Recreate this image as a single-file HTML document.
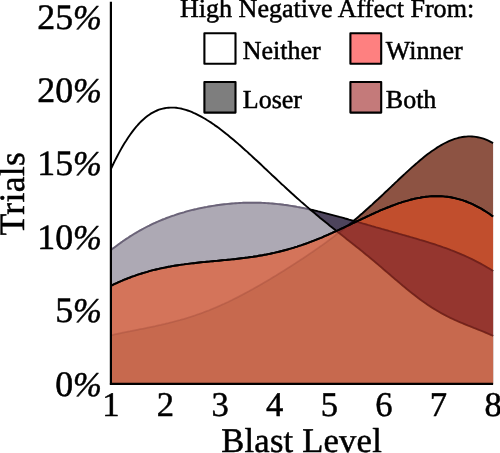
<!DOCTYPE html>
<html><head><meta charset="utf-8"><title>Blast Level density</title>
<style>
html,body{margin:0;padding:0;background:#fff;}
body{width:500px;height:453px;overflow:hidden;}
svg{display:block;will-change:transform;font-family:"Liberation Serif","Times New Roman",serif;fill:#000;}
text{stroke:#000;stroke-width:0.5px;stroke-linejoin:round;text-rendering:geometricPrecision;}
</style></head><body>
<svg width="500" height="453" viewBox="0 0 500 453">
<rect width="500" height="453" fill="#fff"/>
<g id="curves">
<path d="M110.9,335.3 L112.8,334.9 L114.7,334.4 L116.7,334.0 L118.6,333.6 L120.5,333.2 L122.4,332.8 L124.3,332.4 L126.3,332.0 L128.2,331.6 L130.1,331.3 L132.0,330.9 L133.9,330.5 L135.9,330.1 L137.8,329.7 L139.7,329.3 L141.6,328.9 L143.6,328.6 L145.5,328.2 L147.4,327.8 L149.3,327.4 L151.2,327.0 L153.2,326.6 L155.1,326.2 L157.0,325.7 L158.9,325.3 L160.8,324.9 L162.8,324.4 L164.7,324.0 L166.6,323.5 L168.5,323.1 L170.4,322.6 L172.4,322.1 L174.3,321.6 L176.2,321.1 L178.1,320.6 L180.0,320.1 L182.0,319.5 L183.9,319.0 L185.8,318.4 L187.7,317.8 L189.6,317.2 L191.6,316.6 L193.5,315.9 L195.4,315.3 L197.3,314.6 L199.2,314.0 L201.2,313.3 L203.1,312.6 L205.0,311.8 L206.9,311.1 L208.9,310.4 L210.8,309.6 L212.7,308.8 L214.6,308.0 L216.5,307.2 L218.5,306.3 L220.4,305.5 L222.3,304.6 L224.2,303.8 L226.1,302.9 L228.1,302.0 L230.0,301.0 L231.9,300.1 L233.8,299.1 L235.7,298.2 L237.7,297.2 L239.6,296.2 L241.5,295.2 L243.4,294.2 L245.3,293.2 L247.3,292.1 L249.2,291.1 L251.1,290.0 L253.0,289.0 L254.9,287.9 L256.9,286.8 L258.8,285.7 L260.7,284.6 L262.6,283.5 L264.5,282.4 L266.5,281.2 L268.4,280.1 L270.3,279.0 L272.2,277.8 L274.2,276.6 L276.1,275.5 L278.0,274.3 L279.9,273.1 L281.8,271.9 L283.8,270.7 L285.7,269.5 L287.6,268.3 L289.5,267.1 L291.4,265.9 L293.4,264.6 L295.3,263.4 L297.2,262.1 L299.1,260.9 L301.0,259.6 L303.0,258.4 L304.9,257.1 L306.8,255.8 L308.7,254.5 L310.6,253.2 L312.6,251.9 L314.5,250.6 L316.4,249.2 L318.3,247.9 L320.2,246.5 L322.2,245.2 L324.1,243.8 L326.0,242.4 L327.9,241.0 L329.8,239.6 L331.8,238.1 L333.7,236.7 L335.6,235.2 L337.5,233.7 L339.5,232.3 L341.4,230.8 L343.3,229.2 L345.2,227.7 L347.1,226.1 L349.1,224.6 L351.0,223.0 L352.9,221.4 L354.8,219.8 L356.7,218.2 L358.7,216.5 L360.6,214.8 L362.5,213.2 L364.4,211.5 L366.3,209.8 L368.3,208.0 L370.2,206.3 L372.1,204.6 L374.0,202.8 L375.9,201.0 L377.9,199.3 L379.8,197.5 L381.7,195.7 L383.6,193.9 L385.5,192.0 L387.5,190.2 L389.4,188.4 L391.3,186.6 L393.2,184.8 L395.1,182.9 L397.1,181.1 L399.0,179.3 L400.9,177.5 L402.8,175.7 L404.8,173.9 L406.7,172.1 L408.6,170.4 L410.5,168.6 L412.4,166.9 L414.4,165.2 L416.3,163.6 L418.2,161.9 L420.1,160.3 L422.0,158.7 L424.0,157.1 L425.9,155.6 L427.8,154.1 L429.7,152.7 L431.6,151.3 L433.6,150.0 L435.5,148.7 L437.4,147.4 L439.3,146.2 L441.2,145.1 L443.2,144.0 L445.1,143.0 L447.0,142.1 L448.9,141.2 L450.8,140.4 L452.8,139.6 L454.7,138.9 L456.6,138.4 L458.5,137.8 L460.4,137.4 L462.4,137.0 L464.3,136.8 L466.2,136.6 L468.1,136.4 L470.1,136.4 L472.0,136.5 L473.9,136.6 L475.8,136.9 L477.7,137.2 L479.7,137.6 L481.6,138.1 L483.5,138.7 L485.4,139.4 L487.3,140.2 L489.3,141.1 L491.2,142.1 L493.1,143.1 L493.1,383.8 L110.9,383.8 Z" fill="rgb(103,25,4)" fill-opacity="0.75" stroke="none"/>
<path d="M110.9,335.3 L112.8,334.9 L114.7,334.4 L116.7,334.0 L118.6,333.6 L120.5,333.2 L122.4,332.8 L124.3,332.4 L126.3,332.0 L128.2,331.6 L130.1,331.3 L132.0,330.9 L133.9,330.5 L135.9,330.1 L137.8,329.7 L139.7,329.3 L141.6,328.9 L143.6,328.6 L145.5,328.2 L147.4,327.8 L149.3,327.4 L151.2,327.0 L153.2,326.6 L155.1,326.2 L157.0,325.7 L158.9,325.3 L160.8,324.9 L162.8,324.4 L164.7,324.0 L166.6,323.5 L168.5,323.1 L170.4,322.6 L172.4,322.1 L174.3,321.6 L176.2,321.1 L178.1,320.6 L180.0,320.1 L182.0,319.5 L183.9,319.0 L185.8,318.4 L187.7,317.8 L189.6,317.2 L191.6,316.6 L193.5,315.9 L195.4,315.3 L197.3,314.6 L199.2,314.0 L201.2,313.3 L203.1,312.6 L205.0,311.8 L206.9,311.1 L208.9,310.4 L210.8,309.6 L212.7,308.8 L214.6,308.0 L216.5,307.2 L218.5,306.3 L220.4,305.5 L222.3,304.6 L224.2,303.8 L226.1,302.9 L228.1,302.0 L230.0,301.0 L231.9,300.1 L233.8,299.1 L235.7,298.2 L237.7,297.2 L239.6,296.2 L241.5,295.2 L243.4,294.2 L245.3,293.2 L247.3,292.1 L249.2,291.1 L251.1,290.0 L253.0,289.0 L254.9,287.9 L256.9,286.8 L258.8,285.7 L260.7,284.6 L262.6,283.5 L264.5,282.4 L266.5,281.2 L268.4,280.1 L270.3,279.0 L272.2,277.8 L274.2,276.6 L276.1,275.5 L278.0,274.3 L279.9,273.1 L281.8,271.9 L283.8,270.7 L285.7,269.5 L287.6,268.3 L289.5,267.1 L291.4,265.9 L293.4,264.6 L295.3,263.4 L297.2,262.1 L299.1,260.9 L301.0,259.6 L303.0,258.4 L304.9,257.1 L306.8,255.8 L308.7,254.5 L310.6,253.2 L312.6,251.9 L314.5,250.6 L316.4,249.2 L318.3,247.9 L320.2,246.5 L322.2,245.2 L324.1,243.8 L326.0,242.4 L327.9,241.0 L329.8,239.6 L331.8,238.1 L333.7,236.7 L335.6,235.2 L337.5,233.7 L339.5,232.3 L341.4,230.8 L343.3,229.2 L345.2,227.7 L347.1,226.1 L349.1,224.6 L351.0,223.0 L352.9,221.4 L354.8,219.8 L356.7,218.2 L358.7,216.5 L360.6,214.8 L362.5,213.2 L364.4,211.5 L366.3,209.8 L368.3,208.0 L370.2,206.3 L372.1,204.6 L374.0,202.8 L375.9,201.0 L377.9,199.3 L379.8,197.5 L381.7,195.7 L383.6,193.9 L385.5,192.0 L387.5,190.2 L389.4,188.4 L391.3,186.6 L393.2,184.8 L395.1,182.9 L397.1,181.1 L399.0,179.3 L400.9,177.5 L402.8,175.7 L404.8,173.9 L406.7,172.1 L408.6,170.4 L410.5,168.6 L412.4,166.9 L414.4,165.2 L416.3,163.6 L418.2,161.9 L420.1,160.3 L422.0,158.7 L424.0,157.1 L425.9,155.6 L427.8,154.1 L429.7,152.7 L431.6,151.3 L433.6,150.0 L435.5,148.7 L437.4,147.4 L439.3,146.2 L441.2,145.1 L443.2,144.0 L445.1,143.0 L447.0,142.1 L448.9,141.2 L450.8,140.4 L452.8,139.6 L454.7,138.9 L456.6,138.4 L458.5,137.8 L460.4,137.4 L462.4,137.0 L464.3,136.8 L466.2,136.6 L468.1,136.4 L470.1,136.4 L472.0,136.5 L473.9,136.6 L475.8,136.9 L477.7,137.2 L479.7,137.6 L481.6,138.1 L483.5,138.7 L485.4,139.4 L487.3,140.2 L489.3,141.1 L491.2,142.1 L493.1,143.1" fill="none" stroke="#000" stroke-width="1.9" stroke-linejoin="round" stroke-linecap="butt"/>
<path d="M110.9,250.1 L112.8,248.6 L114.7,247.2 L116.7,245.7 L118.6,244.3 L120.5,242.9 L122.4,241.6 L124.3,240.2 L126.3,238.9 L128.2,237.7 L130.1,236.4 L132.0,235.2 L133.9,234.0 L135.9,232.9 L137.8,231.7 L139.7,230.6 L141.6,229.6 L143.6,228.5 L145.5,227.5 L147.4,226.5 L149.3,225.6 L151.2,224.6 L153.2,223.7 L155.1,222.8 L157.0,222.0 L158.9,221.1 L160.8,220.3 L162.8,219.5 L164.7,218.8 L166.6,218.0 L168.5,217.3 L170.4,216.6 L172.4,215.9 L174.3,215.3 L176.2,214.6 L178.1,214.0 L180.0,213.4 L182.0,212.8 L183.9,212.3 L185.8,211.7 L187.7,211.2 L189.6,210.7 L191.6,210.2 L193.5,209.7 L195.4,209.3 L197.3,208.8 L199.2,208.4 L201.2,208.0 L203.1,207.6 L205.0,207.2 L206.9,206.9 L208.9,206.5 L210.8,206.2 L212.7,205.9 L214.6,205.6 L216.5,205.3 L218.5,205.0 L220.4,204.7 L222.3,204.5 L224.2,204.3 L226.1,204.1 L228.1,203.9 L230.0,203.7 L231.9,203.5 L233.8,203.4 L235.7,203.2 L237.7,203.1 L239.6,203.0 L241.5,202.9 L243.4,202.8 L245.3,202.8 L247.3,202.7 L249.2,202.7 L251.1,202.7 L253.0,202.7 L254.9,202.7 L256.9,202.7 L258.8,202.8 L260.7,202.8 L262.6,202.9 L264.5,203.0 L266.5,203.1 L268.4,203.2 L270.3,203.4 L272.2,203.5 L274.2,203.7 L276.1,203.9 L278.0,204.1 L279.9,204.3 L281.8,204.5 L283.8,204.8 L285.7,205.0 L287.6,205.3 L289.5,205.6 L291.4,205.9 L293.4,206.2 L295.3,206.5 L297.2,206.9 L299.1,207.2 L301.0,207.6 L303.0,208.0 L304.9,208.4 L306.8,208.8 L308.7,209.2 L310.6,209.6 L312.6,210.0 L314.5,210.5 L316.4,210.9 L318.3,211.4 L320.2,211.8 L322.2,212.3 L324.1,212.8 L326.0,213.3 L327.9,213.8 L329.8,214.3 L331.8,214.8 L333.7,215.3 L335.6,215.8 L337.5,216.3 L339.5,216.9 L341.4,217.4 L343.3,217.9 L345.2,218.5 L347.1,219.0 L349.1,219.6 L351.0,220.1 L352.9,220.6 L354.8,221.2 L356.7,221.7 L358.7,222.3 L360.6,222.8 L362.5,223.4 L364.4,223.9 L366.3,224.5 L368.3,225.1 L370.2,225.6 L372.1,226.2 L374.0,226.7 L375.9,227.3 L377.9,227.8 L379.8,228.3 L381.7,228.9 L383.6,229.4 L385.5,230.0 L387.5,230.5 L389.4,231.1 L391.3,231.6 L393.2,232.2 L395.1,232.7 L397.1,233.2 L399.0,233.8 L400.9,234.3 L402.8,234.9 L404.8,235.4 L406.7,236.0 L408.6,236.5 L410.5,237.1 L412.4,237.6 L414.4,238.2 L416.3,238.7 L418.2,239.3 L420.1,239.9 L422.0,240.4 L424.0,241.0 L425.9,241.6 L427.8,242.2 L429.7,242.8 L431.6,243.4 L433.6,244.0 L435.5,244.6 L437.4,245.3 L439.3,245.9 L441.2,246.6 L443.2,247.3 L445.1,247.9 L447.0,248.6 L448.9,249.3 L450.8,250.1 L452.8,250.8 L454.7,251.6 L456.6,252.4 L458.5,253.2 L460.4,254.0 L462.4,254.8 L464.3,255.6 L466.2,256.5 L468.1,257.4 L470.1,258.3 L472.0,259.2 L473.9,260.2 L475.8,261.2 L477.7,262.2 L479.7,263.2 L481.6,264.2 L483.5,265.3 L485.4,266.4 L487.3,267.5 L489.3,268.6 L491.2,269.8 L493.1,271.0 L493.1,383.8 L110.9,383.8 Z" fill="rgb(27,16,46)" fill-opacity="0.78" stroke="none"/>
<path d="M110.9,250.1 L112.8,248.6 L114.7,247.2 L116.7,245.7 L118.6,244.3 L120.5,242.9 L122.4,241.6 L124.3,240.2 L126.3,238.9 L128.2,237.7 L130.1,236.4 L132.0,235.2 L133.9,234.0 L135.9,232.9 L137.8,231.7 L139.7,230.6 L141.6,229.6 L143.6,228.5 L145.5,227.5 L147.4,226.5 L149.3,225.6 L151.2,224.6 L153.2,223.7 L155.1,222.8 L157.0,222.0 L158.9,221.1 L160.8,220.3 L162.8,219.5 L164.7,218.8 L166.6,218.0 L168.5,217.3 L170.4,216.6 L172.4,215.9 L174.3,215.3 L176.2,214.6 L178.1,214.0 L180.0,213.4 L182.0,212.8 L183.9,212.3 L185.8,211.7 L187.7,211.2 L189.6,210.7 L191.6,210.2 L193.5,209.7 L195.4,209.3 L197.3,208.8 L199.2,208.4 L201.2,208.0 L203.1,207.6 L205.0,207.2 L206.9,206.9 L208.9,206.5 L210.8,206.2 L212.7,205.9 L214.6,205.6 L216.5,205.3 L218.5,205.0 L220.4,204.7 L222.3,204.5 L224.2,204.3 L226.1,204.1 L228.1,203.9 L230.0,203.7 L231.9,203.5 L233.8,203.4 L235.7,203.2 L237.7,203.1 L239.6,203.0 L241.5,202.9 L243.4,202.8 L245.3,202.8 L247.3,202.7 L249.2,202.7 L251.1,202.7 L253.0,202.7 L254.9,202.7 L256.9,202.7 L258.8,202.8 L260.7,202.8 L262.6,202.9 L264.5,203.0 L266.5,203.1 L268.4,203.2 L270.3,203.4 L272.2,203.5 L274.2,203.7 L276.1,203.9 L278.0,204.1 L279.9,204.3 L281.8,204.5 L283.8,204.8 L285.7,205.0 L287.6,205.3 L289.5,205.6 L291.4,205.9 L293.4,206.2 L295.3,206.5 L297.2,206.9 L299.1,207.2 L301.0,207.6 L303.0,208.0 L304.9,208.4 L306.8,208.8 L308.7,209.2 L310.6,209.6 L312.6,210.0 L314.5,210.5 L316.4,210.9 L318.3,211.4 L320.2,211.8 L322.2,212.3 L324.1,212.8 L326.0,213.3 L327.9,213.8 L329.8,214.3 L331.8,214.8 L333.7,215.3 L335.6,215.8 L337.5,216.3 L339.5,216.9 L341.4,217.4 L343.3,217.9 L345.2,218.5 L347.1,219.0 L349.1,219.6 L351.0,220.1 L352.9,220.6 L354.8,221.2 L356.7,221.7 L358.7,222.3 L360.6,222.8 L362.5,223.4 L364.4,223.9 L366.3,224.5 L368.3,225.1 L370.2,225.6 L372.1,226.2 L374.0,226.7 L375.9,227.3 L377.9,227.8 L379.8,228.3 L381.7,228.9 L383.6,229.4 L385.5,230.0 L387.5,230.5 L389.4,231.1 L391.3,231.6 L393.2,232.2 L395.1,232.7 L397.1,233.2 L399.0,233.8 L400.9,234.3 L402.8,234.9 L404.8,235.4 L406.7,236.0 L408.6,236.5 L410.5,237.1 L412.4,237.6 L414.4,238.2 L416.3,238.7 L418.2,239.3 L420.1,239.9 L422.0,240.4 L424.0,241.0 L425.9,241.6 L427.8,242.2 L429.7,242.8 L431.6,243.4 L433.6,244.0 L435.5,244.6 L437.4,245.3 L439.3,245.9 L441.2,246.6 L443.2,247.3 L445.1,247.9 L447.0,248.6 L448.9,249.3 L450.8,250.1 L452.8,250.8 L454.7,251.6 L456.6,252.4 L458.5,253.2 L460.4,254.0 L462.4,254.8 L464.3,255.6 L466.2,256.5 L468.1,257.4 L470.1,258.3 L472.0,259.2 L473.9,260.2 L475.8,261.2 L477.7,262.2 L479.7,263.2 L481.6,264.2 L483.5,265.3 L485.4,266.4 L487.3,267.5 L489.3,268.6 L491.2,269.8 L493.1,271.0" fill="none" stroke="#000" stroke-width="1.9" stroke-linejoin="round" stroke-linecap="butt"/>
<path d="M110.9,169.0 L112.8,165.0 L114.7,161.1 L116.7,157.3 L118.6,153.6 L120.5,150.1 L122.4,146.8 L124.3,143.5 L126.3,140.5 L128.2,137.5 L130.1,134.7 L132.0,132.1 L133.9,129.6 L135.9,127.2 L137.8,125.0 L139.7,122.9 L141.6,121.0 L143.6,119.2 L145.5,117.6 L147.4,116.1 L149.3,114.7 L151.2,113.4 L153.2,112.3 L155.1,111.3 L157.0,110.5 L158.9,109.7 L160.8,109.1 L162.8,108.6 L164.7,108.2 L166.6,107.9 L168.5,107.7 L170.4,107.6 L172.4,107.6 L174.3,107.6 L176.2,107.8 L178.1,108.1 L180.0,108.4 L182.0,108.8 L183.9,109.3 L185.8,109.9 L187.7,110.5 L189.6,111.2 L191.6,111.9 L193.5,112.8 L195.4,113.6 L197.3,114.6 L199.2,115.6 L201.2,116.6 L203.1,117.7 L205.0,118.8 L206.9,120.0 L208.9,121.2 L210.8,122.4 L212.7,123.7 L214.6,125.1 L216.5,126.4 L218.5,127.8 L220.4,129.3 L222.3,130.7 L224.2,132.2 L226.1,133.8 L228.1,135.3 L230.0,136.9 L231.9,138.5 L233.8,140.1 L235.7,141.7 L237.7,143.4 L239.6,145.1 L241.5,146.7 L243.4,148.5 L245.3,150.2 L247.3,151.9 L249.2,153.7 L251.1,155.4 L253.0,157.2 L254.9,159.0 L256.9,160.8 L258.8,162.5 L260.7,164.3 L262.6,166.1 L264.5,168.0 L266.5,169.8 L268.4,171.6 L270.3,173.4 L272.2,175.2 L274.2,177.0 L276.1,178.8 L278.0,180.6 L279.9,182.4 L281.8,184.2 L283.8,185.9 L285.7,187.7 L287.6,189.5 L289.5,191.2 L291.4,193.0 L293.4,194.7 L295.3,196.5 L297.2,198.2 L299.1,199.9 L301.0,201.6 L303.0,203.3 L304.9,204.9 L306.8,206.6 L308.7,208.3 L310.6,209.9 L312.6,211.5 L314.5,213.1 L316.4,214.7 L318.3,216.3 L320.2,217.9 L322.2,219.5 L324.1,221.0 L326.0,222.6 L327.9,224.1 L329.8,225.7 L331.8,227.2 L333.7,228.7 L335.6,230.3 L337.5,231.8 L339.5,233.3 L341.4,234.8 L343.3,236.3 L345.2,237.8 L347.1,239.4 L349.1,240.9 L351.0,242.4 L352.9,243.9 L354.8,245.4 L356.7,247.0 L358.7,248.5 L360.6,250.1 L362.5,251.6 L364.4,253.2 L366.3,254.8 L368.3,256.3 L370.2,257.9 L372.1,259.5 L374.0,261.1 L375.9,262.7 L377.9,264.4 L379.8,266.0 L381.7,267.6 L383.6,269.3 L385.5,270.9 L387.5,272.6 L389.4,274.2 L391.3,275.9 L393.2,277.5 L395.1,279.2 L397.1,280.8 L399.0,282.4 L400.9,284.1 L402.8,285.7 L404.8,287.3 L406.7,288.9 L408.6,290.4 L410.5,292.0 L412.4,293.5 L414.4,295.0 L416.3,296.5 L418.2,298.0 L420.1,299.4 L422.0,300.8 L424.0,302.2 L425.9,303.5 L427.8,304.9 L429.7,306.1 L431.6,307.4 L433.6,308.6 L435.5,309.8 L437.4,310.9 L439.3,312.0 L441.2,313.1 L443.2,314.2 L445.1,315.2 L447.0,316.2 L448.9,317.1 L450.8,318.1 L452.8,319.0 L454.7,319.9 L456.6,320.7 L458.5,321.6 L460.4,322.4 L462.4,323.2 L464.3,324.0 L466.2,324.8 L468.1,325.6 L470.1,326.3 L472.0,327.1 L473.9,327.9 L475.8,328.6 L477.7,329.4 L479.7,330.2 L481.6,330.9 L483.5,331.7 L485.4,332.5 L487.3,333.3 L489.3,334.2 L491.2,335.0 L493.1,335.9 L493.1,383.8 L110.9,383.8 Z" fill="rgb(255,255,255)" fill-opacity="0.54" stroke="none"/>
<path d="M110.9,169.0 L112.8,165.0 L114.7,161.1 L116.7,157.3 L118.6,153.6 L120.5,150.1 L122.4,146.8 L124.3,143.5 L126.3,140.5 L128.2,137.5 L130.1,134.7 L132.0,132.1 L133.9,129.6 L135.9,127.2 L137.8,125.0 L139.7,122.9 L141.6,121.0 L143.6,119.2 L145.5,117.6 L147.4,116.1 L149.3,114.7 L151.2,113.4 L153.2,112.3 L155.1,111.3 L157.0,110.5 L158.9,109.7 L160.8,109.1 L162.8,108.6 L164.7,108.2 L166.6,107.9 L168.5,107.7 L170.4,107.6 L172.4,107.6 L174.3,107.6 L176.2,107.8 L178.1,108.1 L180.0,108.4 L182.0,108.8 L183.9,109.3 L185.8,109.9 L187.7,110.5 L189.6,111.2 L191.6,111.9 L193.5,112.8 L195.4,113.6 L197.3,114.6 L199.2,115.6 L201.2,116.6 L203.1,117.7 L205.0,118.8 L206.9,120.0 L208.9,121.2 L210.8,122.4 L212.7,123.7 L214.6,125.1 L216.5,126.4 L218.5,127.8 L220.4,129.3 L222.3,130.7 L224.2,132.2 L226.1,133.8 L228.1,135.3 L230.0,136.9 L231.9,138.5 L233.8,140.1 L235.7,141.7 L237.7,143.4 L239.6,145.1 L241.5,146.7 L243.4,148.5 L245.3,150.2 L247.3,151.9 L249.2,153.7 L251.1,155.4 L253.0,157.2 L254.9,159.0 L256.9,160.8 L258.8,162.5 L260.7,164.3 L262.6,166.1 L264.5,168.0 L266.5,169.8 L268.4,171.6 L270.3,173.4 L272.2,175.2 L274.2,177.0 L276.1,178.8 L278.0,180.6 L279.9,182.4 L281.8,184.2 L283.8,185.9 L285.7,187.7 L287.6,189.5 L289.5,191.2 L291.4,193.0 L293.4,194.7 L295.3,196.5 L297.2,198.2 L299.1,199.9 L301.0,201.6 L303.0,203.3 L304.9,204.9 L306.8,206.6 L308.7,208.3 L310.6,209.9 L312.6,211.5 L314.5,213.1 L316.4,214.7 L318.3,216.3 L320.2,217.9 L322.2,219.5 L324.1,221.0 L326.0,222.6 L327.9,224.1 L329.8,225.7 L331.8,227.2 L333.7,228.7 L335.6,230.3 L337.5,231.8 L339.5,233.3 L341.4,234.8 L343.3,236.3 L345.2,237.8 L347.1,239.4 L349.1,240.9 L351.0,242.4 L352.9,243.9 L354.8,245.4 L356.7,247.0 L358.7,248.5 L360.6,250.1 L362.5,251.6 L364.4,253.2 L366.3,254.8 L368.3,256.3 L370.2,257.9 L372.1,259.5 L374.0,261.1 L375.9,262.7 L377.9,264.4 L379.8,266.0 L381.7,267.6 L383.6,269.3 L385.5,270.9 L387.5,272.6 L389.4,274.2 L391.3,275.9 L393.2,277.5 L395.1,279.2 L397.1,280.8 L399.0,282.4 L400.9,284.1 L402.8,285.7 L404.8,287.3 L406.7,288.9 L408.6,290.4 L410.5,292.0 L412.4,293.5 L414.4,295.0 L416.3,296.5 L418.2,298.0 L420.1,299.4 L422.0,300.8 L424.0,302.2 L425.9,303.5 L427.8,304.9 L429.7,306.1 L431.6,307.4 L433.6,308.6 L435.5,309.8 L437.4,310.9 L439.3,312.0 L441.2,313.1 L443.2,314.2 L445.1,315.2 L447.0,316.2 L448.9,317.1 L450.8,318.1 L452.8,319.0 L454.7,319.9 L456.6,320.7 L458.5,321.6 L460.4,322.4 L462.4,323.2 L464.3,324.0 L466.2,324.8 L468.1,325.6 L470.1,326.3 L472.0,327.1 L473.9,327.9 L475.8,328.6 L477.7,329.4 L479.7,330.2 L481.6,330.9 L483.5,331.7 L485.4,332.5 L487.3,333.3 L489.3,334.2 L491.2,335.0 L493.1,335.9" fill="none" stroke="#000" stroke-width="1.9" stroke-linejoin="round" stroke-linecap="butt"/>
<path d="M110.9,285.8 L112.8,284.8 L114.7,283.9 L116.7,283.1 L118.6,282.2 L120.5,281.4 L122.4,280.5 L124.3,279.7 L126.3,279.0 L128.2,278.2 L130.1,277.5 L132.0,276.7 L133.9,276.1 L135.9,275.4 L137.8,274.7 L139.7,274.1 L141.6,273.5 L143.6,272.9 L145.5,272.3 L147.4,271.8 L149.3,271.2 L151.2,270.7 L153.2,270.2 L155.1,269.7 L157.0,269.3 L158.9,268.8 L160.8,268.4 L162.8,268.0 L164.7,267.6 L166.6,267.2 L168.5,266.8 L170.4,266.5 L172.4,266.1 L174.3,265.8 L176.2,265.5 L178.1,265.2 L180.0,264.9 L182.0,264.6 L183.9,264.4 L185.8,264.1 L187.7,263.9 L189.6,263.6 L191.6,263.4 L193.5,263.2 L195.4,263.0 L197.3,262.7 L199.2,262.5 L201.2,262.3 L203.1,262.1 L205.0,262.0 L206.9,261.8 L208.9,261.6 L210.8,261.4 L212.7,261.2 L214.6,261.0 L216.5,260.9 L218.5,260.7 L220.4,260.5 L222.3,260.3 L224.2,260.1 L226.1,260.0 L228.1,259.8 L230.0,259.6 L231.9,259.4 L233.8,259.2 L235.7,259.0 L237.7,258.7 L239.6,258.5 L241.5,258.3 L243.4,258.1 L245.3,257.8 L247.3,257.6 L249.2,257.3 L251.1,257.0 L253.0,256.8 L254.9,256.5 L256.9,256.2 L258.8,255.8 L260.7,255.5 L262.6,255.2 L264.5,254.8 L266.5,254.5 L268.4,254.1 L270.3,253.7 L272.2,253.3 L274.2,252.9 L276.1,252.4 L278.0,252.0 L279.9,251.5 L281.8,251.0 L283.8,250.5 L285.7,250.0 L287.6,249.5 L289.5,248.9 L291.4,248.4 L293.4,247.8 L295.3,247.2 L297.2,246.6 L299.1,245.9 L301.0,245.3 L303.0,244.6 L304.9,244.0 L306.8,243.3 L308.7,242.6 L310.6,241.9 L312.6,241.1 L314.5,240.4 L316.4,239.6 L318.3,238.8 L320.2,238.1 L322.2,237.3 L324.1,236.4 L326.0,235.6 L327.9,234.8 L329.8,233.9 L331.8,233.1 L333.7,232.2 L335.6,231.4 L337.5,230.5 L339.5,229.6 L341.4,228.7 L343.3,227.8 L345.2,226.9 L347.1,226.0 L349.1,225.1 L351.0,224.1 L352.9,223.2 L354.8,222.3 L356.7,221.4 L358.7,220.5 L360.6,219.6 L362.5,218.7 L364.4,217.8 L366.3,216.8 L368.3,216.0 L370.2,215.1 L372.1,214.2 L374.0,213.3 L375.9,212.4 L377.9,211.6 L379.8,210.7 L381.7,209.9 L383.6,209.1 L385.5,208.3 L387.5,207.5 L389.4,206.8 L391.3,206.0 L393.2,205.3 L395.1,204.6 L397.1,203.9 L399.0,203.2 L400.9,202.6 L402.8,201.9 L404.8,201.4 L406.7,200.8 L408.6,200.3 L410.5,199.7 L412.4,199.3 L414.4,198.8 L416.3,198.4 L418.2,198.0 L420.1,197.7 L422.0,197.3 L424.0,197.1 L425.9,196.8 L427.8,196.6 L429.7,196.4 L431.6,196.3 L433.6,196.2 L435.5,196.2 L437.4,196.2 L439.3,196.2 L441.2,196.3 L443.2,196.4 L445.1,196.6 L447.0,196.8 L448.9,197.0 L450.8,197.3 L452.8,197.7 L454.7,198.1 L456.6,198.6 L458.5,199.1 L460.4,199.6 L462.4,200.2 L464.3,200.8 L466.2,201.5 L468.1,202.3 L470.1,203.1 L472.0,203.9 L473.9,204.8 L475.8,205.8 L477.7,206.8 L479.7,207.8 L481.6,208.9 L483.5,210.1 L485.4,211.3 L487.3,212.5 L489.3,213.8 L491.2,215.2 L493.1,216.6 L493.1,383.8 L110.9,383.8 Z" fill="rgb(230,75,31)" fill-opacity="0.59" stroke="none"/>
<path d="M110.9,285.8 L112.8,284.8 L114.7,283.9 L116.7,283.1 L118.6,282.2 L120.5,281.4 L122.4,280.5 L124.3,279.7 L126.3,279.0 L128.2,278.2 L130.1,277.5 L132.0,276.7 L133.9,276.1 L135.9,275.4 L137.8,274.7 L139.7,274.1 L141.6,273.5 L143.6,272.9 L145.5,272.3 L147.4,271.8 L149.3,271.2 L151.2,270.7 L153.2,270.2 L155.1,269.7 L157.0,269.3 L158.9,268.8 L160.8,268.4 L162.8,268.0 L164.7,267.6 L166.6,267.2 L168.5,266.8 L170.4,266.5 L172.4,266.1 L174.3,265.8 L176.2,265.5 L178.1,265.2 L180.0,264.9 L182.0,264.6 L183.9,264.4 L185.8,264.1 L187.7,263.9 L189.6,263.6 L191.6,263.4 L193.5,263.2 L195.4,263.0 L197.3,262.7 L199.2,262.5 L201.2,262.3 L203.1,262.1 L205.0,262.0 L206.9,261.8 L208.9,261.6 L210.8,261.4 L212.7,261.2 L214.6,261.0 L216.5,260.9 L218.5,260.7 L220.4,260.5 L222.3,260.3 L224.2,260.1 L226.1,260.0 L228.1,259.8 L230.0,259.6 L231.9,259.4 L233.8,259.2 L235.7,259.0 L237.7,258.7 L239.6,258.5 L241.5,258.3 L243.4,258.1 L245.3,257.8 L247.3,257.6 L249.2,257.3 L251.1,257.0 L253.0,256.8 L254.9,256.5 L256.9,256.2 L258.8,255.8 L260.7,255.5 L262.6,255.2 L264.5,254.8 L266.5,254.5 L268.4,254.1 L270.3,253.7 L272.2,253.3 L274.2,252.9 L276.1,252.4 L278.0,252.0 L279.9,251.5 L281.8,251.0 L283.8,250.5 L285.7,250.0 L287.6,249.5 L289.5,248.9 L291.4,248.4 L293.4,247.8 L295.3,247.2 L297.2,246.6 L299.1,245.9 L301.0,245.3 L303.0,244.6 L304.9,244.0 L306.8,243.3 L308.7,242.6 L310.6,241.9 L312.6,241.1 L314.5,240.4 L316.4,239.6 L318.3,238.8 L320.2,238.1 L322.2,237.3 L324.1,236.4 L326.0,235.6 L327.9,234.8 L329.8,233.9 L331.8,233.1 L333.7,232.2 L335.6,231.4 L337.5,230.5 L339.5,229.6 L341.4,228.7 L343.3,227.8 L345.2,226.9 L347.1,226.0 L349.1,225.1 L351.0,224.1 L352.9,223.2 L354.8,222.3 L356.7,221.4 L358.7,220.5 L360.6,219.6 L362.5,218.7 L364.4,217.8 L366.3,216.8 L368.3,216.0 L370.2,215.1 L372.1,214.2 L374.0,213.3 L375.9,212.4 L377.9,211.6 L379.8,210.7 L381.7,209.9 L383.6,209.1 L385.5,208.3 L387.5,207.5 L389.4,206.8 L391.3,206.0 L393.2,205.3 L395.1,204.6 L397.1,203.9 L399.0,203.2 L400.9,202.6 L402.8,201.9 L404.8,201.4 L406.7,200.8 L408.6,200.3 L410.5,199.7 L412.4,199.3 L414.4,198.8 L416.3,198.4 L418.2,198.0 L420.1,197.7 L422.0,197.3 L424.0,197.1 L425.9,196.8 L427.8,196.6 L429.7,196.4 L431.6,196.3 L433.6,196.2 L435.5,196.2 L437.4,196.2 L439.3,196.2 L441.2,196.3 L443.2,196.4 L445.1,196.6 L447.0,196.8 L448.9,197.0 L450.8,197.3 L452.8,197.7 L454.7,198.1 L456.6,198.6 L458.5,199.1 L460.4,199.6 L462.4,200.2 L464.3,200.8 L466.2,201.5 L468.1,202.3 L470.1,203.1 L472.0,203.9 L473.9,204.8 L475.8,205.8 L477.7,206.8 L479.7,207.8 L481.6,208.9 L483.5,210.1 L485.4,211.3 L487.3,212.5 L489.3,213.8 L491.2,215.2 L493.1,216.6" fill="none" stroke="#000" stroke-width="1.9" stroke-linejoin="round" stroke-linecap="butt"/>
<path d="M110.9,285.8 L112.8,284.8 L114.7,283.9 L116.7,283.1 L118.6,282.2 L120.5,281.4 L122.4,280.5 L124.3,279.7 L126.3,279.0 L128.2,278.2 L130.1,277.5 L132.0,276.7 L133.9,276.1 L135.9,275.4 L137.8,274.7 L139.7,274.1 L141.6,273.5 L143.6,272.9 L145.5,272.3 L147.4,271.8 L149.3,271.2 L151.2,270.7 L153.2,270.2 L155.1,269.7 L157.0,269.3 L158.9,268.8 L160.8,268.4 L162.8,268.0 L164.7,267.6 L166.6,267.2 L168.5,266.8 L170.4,266.5 L172.4,266.1 L174.3,265.8 L176.2,265.5 L178.1,265.2 L180.0,264.9 L182.0,264.6 L183.9,264.4 L185.8,264.1 L187.7,263.9 L189.6,263.6 L191.6,263.4 L193.5,263.2 L195.4,263.0 L197.3,262.7 L199.2,262.5 L201.2,262.3 L203.1,262.1 L205.0,262.0 L206.9,261.8 L208.9,261.6 L210.8,261.4 L212.7,261.2 L214.6,261.0 L216.5,260.9 L218.5,260.7 L220.4,260.5 L222.3,260.3 L224.2,260.1 L226.1,260.0 L228.1,259.8 L230.0,259.6 L231.9,259.4 L233.8,259.2 L235.7,259.0 L237.7,258.7 L239.6,258.5 L241.5,258.3 L243.4,258.1 L245.3,257.8 L247.3,257.6 L249.2,257.3 L251.1,257.0 L253.0,256.8 L254.9,256.5 L256.9,256.2 L258.8,255.8 L260.7,255.5 L262.6,255.2 L264.5,254.8 L266.5,254.5 L268.4,254.1 L270.3,253.7 L272.2,253.3 L274.2,252.9 L276.1,252.4 L278.0,252.0 L279.9,251.5 L281.8,251.0 L283.8,250.5 L285.7,250.0 L287.6,249.5 L289.5,248.9 L291.4,248.4 L293.4,247.8 L295.3,247.2 L297.2,246.6 L299.1,245.9 L301.0,245.3 L303.0,244.6 L304.9,244.0 L306.8,243.3 L308.7,242.6 L310.6,241.9 L312.6,241.1 L314.5,240.4 L316.4,239.6 L318.3,238.8 L320.2,238.1 L322.2,237.3 L324.1,236.4 L326.0,235.6 L327.9,234.8 L329.8,233.9 L331.8,233.1 L333.7,232.2 L335.6,231.4 L335.6,235.2 L333.7,236.7 L331.8,238.1 L329.8,239.6 L327.9,241.0 L326.0,242.4 L324.1,243.8 L322.2,245.2 L320.2,246.5 L318.3,247.9 L316.4,249.2 L314.5,250.6 L312.6,251.9 L310.6,253.2 L308.7,254.5 L306.8,255.8 L304.9,257.1 L303.0,258.4 L301.0,259.6 L299.1,260.9 L297.2,262.1 L295.3,263.4 L293.4,264.6 L291.4,265.9 L289.5,267.1 L287.6,268.3 L285.7,269.5 L283.8,270.7 L281.8,271.9 L279.9,273.1 L278.0,274.3 L276.1,275.5 L274.2,276.6 L272.2,277.8 L270.3,279.0 L268.4,280.1 L266.5,281.2 L264.5,282.4 L262.6,283.5 L260.7,284.6 L258.8,285.7 L256.9,286.8 L254.9,287.9 L253.0,289.0 L251.1,290.0 L249.2,291.1 L247.3,292.1 L245.3,293.2 L243.4,294.2 L241.5,295.2 L239.6,296.2 L237.7,297.2 L235.7,298.2 L233.8,299.1 L231.9,300.1 L230.0,301.0 L228.1,302.0 L226.1,302.9 L224.2,303.8 L222.3,304.6 L220.4,305.5 L218.5,306.3 L216.5,307.2 L214.6,308.0 L212.7,308.8 L210.8,309.6 L208.9,310.4 L206.9,311.1 L205.0,311.8 L203.1,312.6 L201.2,313.3 L199.2,314.0 L197.3,314.6 L195.4,315.3 L193.5,315.9 L191.6,316.6 L189.6,317.2 L187.7,317.8 L185.8,318.4 L183.9,319.0 L182.0,319.5 L180.0,320.1 L178.1,320.6 L176.2,321.1 L174.3,321.6 L172.4,322.1 L170.4,322.6 L168.5,323.1 L166.6,323.5 L164.7,324.0 L162.8,324.4 L160.8,324.9 L158.9,325.3 L157.0,325.7 L155.1,326.2 L153.2,326.6 L151.2,327.0 L149.3,327.4 L147.4,327.8 L145.5,328.2 L143.6,328.6 L141.6,328.9 L139.7,329.3 L137.8,329.7 L135.9,330.1 L133.9,330.5 L132.0,330.9 L130.1,331.3 L128.2,331.6 L126.3,332.0 L124.3,332.4 L122.4,332.8 L120.5,333.2 L118.6,333.6 L116.7,334.0 L114.7,334.4 L112.8,334.9 L110.9,335.3 Z" fill="rgb(246,134,79)" fill-opacity="0.15"/>
<path d="M337.5,230.5 L339.5,229.6 L341.4,228.7 L343.3,227.8 L345.2,226.9 L347.1,226.0 L349.1,225.1 L351.0,224.1 L352.9,223.2 L356.7,221.7 L358.7,222.3 L360.6,222.8 L362.5,223.4 L364.4,223.9 L366.3,224.5 L368.3,225.1 L370.2,225.6 L372.1,226.2 L374.0,226.7 L375.9,227.3 L377.9,227.8 L379.8,228.3 L381.7,228.9 L383.6,229.4 L385.5,230.0 L387.5,230.5 L389.4,231.1 L391.3,231.6 L393.2,232.2 L395.1,232.7 L397.1,233.2 L399.0,233.8 L400.9,234.3 L402.8,234.9 L404.8,235.4 L406.7,236.0 L408.6,236.5 L410.5,237.1 L412.4,237.6 L414.4,238.2 L416.3,238.7 L418.2,239.3 L420.1,239.9 L422.0,240.4 L424.0,241.0 L425.9,241.6 L427.8,242.2 L429.7,242.8 L431.6,243.4 L433.6,244.0 L435.5,244.6 L437.4,245.3 L439.3,245.9 L441.2,246.6 L443.2,247.3 L445.1,247.9 L447.0,248.6 L448.9,249.3 L450.8,250.1 L452.8,250.8 L454.7,251.6 L456.6,252.4 L458.5,253.2 L460.4,254.0 L462.4,254.8 L464.3,255.6 L466.2,256.5 L468.1,257.4 L470.1,258.3 L472.0,259.2 L473.9,260.2 L475.8,261.2 L477.7,262.2 L479.7,263.2 L481.6,264.2 L483.5,265.3 L485.4,266.4 L487.3,267.5 L489.3,268.6 L491.2,269.8 L493.1,271.0 L493.1,335.9 L491.2,335.0 L489.3,334.2 L487.3,333.3 L485.4,332.5 L483.5,331.7 L481.6,330.9 L479.7,330.2 L477.7,329.4 L475.8,328.6 L473.9,327.9 L472.0,327.1 L470.1,326.3 L468.1,325.6 L466.2,324.8 L464.3,324.0 L462.4,323.2 L460.4,322.4 L458.5,321.6 L456.6,320.7 L454.7,319.9 L452.8,319.0 L450.8,318.1 L448.9,317.1 L447.0,316.2 L445.1,315.2 L443.2,314.2 L441.2,313.1 L439.3,312.0 L437.4,310.9 L435.5,309.8 L433.6,308.6 L431.6,307.4 L429.7,306.1 L427.8,304.9 L425.9,303.5 L424.0,302.2 L422.0,300.8 L420.1,299.4 L418.2,298.0 L416.3,296.5 L414.4,295.0 L412.4,293.5 L410.5,292.0 L408.6,290.4 L406.7,288.9 L404.8,287.3 L402.8,285.7 L400.9,284.1 L399.0,282.4 L397.1,280.8 L395.1,279.2 L393.2,277.5 L391.3,275.9 L389.4,274.2 L387.5,272.6 L385.5,270.9 L383.6,269.3 L381.7,267.6 L379.8,266.0 L377.9,264.4 L375.9,262.7 L374.0,261.1 L372.1,259.5 L370.2,257.9 L368.3,256.3 L366.3,254.8 L364.4,253.2 L362.5,251.6 L360.6,250.1 L358.7,248.5 L356.7,247.0 L354.8,245.4 L352.9,243.9 L351.0,242.4 L349.1,240.9 L347.1,239.4 L345.2,237.8 L343.3,236.3 L341.4,234.8 L339.5,233.3 L337.5,231.8 Z" fill="rgb(117,44,99)" fill-opacity="0.15"/>
<path d="M110.9,335.3 L112.8,334.9 L114.7,334.4 L116.7,334.0 L118.6,333.6 L120.5,333.2 L122.4,332.8 L124.3,332.4 L126.3,332.0 L128.2,331.6 L130.1,331.3 L132.0,330.9 L133.9,330.5 L135.9,330.1 L137.8,329.7 L139.7,329.3 L141.6,328.9 L143.6,328.6 L145.5,328.2 L147.4,327.8 L149.3,327.4 L151.2,327.0 L153.2,326.6 L155.1,326.2 L157.0,325.7 L158.9,325.3 L160.8,324.9 L162.8,324.4 L164.7,324.0 L166.6,323.5 L168.5,323.1 L170.4,322.6 L172.4,322.1 L174.3,321.6 L176.2,321.1 L178.1,320.6 L180.0,320.1 L182.0,319.5 L183.9,319.0 L185.8,318.4 L187.7,317.8 L189.6,317.2 L191.6,316.6 L193.5,315.9 L195.4,315.3 L197.3,314.6 L199.2,314.0 L201.2,313.3 L203.1,312.6 L205.0,311.8 L206.9,311.1 L208.9,310.4 L210.8,309.6 L212.7,308.8 L214.6,308.0 L216.5,307.2 L218.5,306.3 L220.4,305.5 L222.3,304.6 L224.2,303.8 L226.1,302.9 L228.1,302.0 L230.0,301.0 L231.9,300.1 L233.8,299.1 L235.7,298.2 L237.7,297.2 L239.6,296.2 L241.5,295.2 L243.4,294.2 L245.3,293.2 L247.3,292.1 L249.2,291.1 L251.1,290.0 L253.0,289.0 L254.9,287.9 L256.9,286.8 L258.8,285.7 L260.7,284.6 L262.6,283.5 L264.5,282.4 L266.5,281.2 L268.4,280.1 L270.3,279.0 L272.2,277.8 L274.2,276.6 L276.1,275.5 L278.0,274.3 L279.9,273.1 L281.8,271.9 L283.8,270.7 L285.7,269.5 L287.6,268.3 L289.5,267.1 L291.4,265.9 L293.4,264.6 L295.3,263.4 L297.2,262.1 L299.1,260.9 L301.0,259.6 L303.0,258.4 L304.9,257.1 L306.8,255.8 L308.7,254.5 L310.6,253.2 L312.6,251.9 L314.5,250.6 L316.4,249.2 L318.3,247.9 L320.2,246.5 L322.2,245.2 L324.1,243.8 L326.0,242.4 L327.9,241.0 L329.8,239.6 L331.8,238.1 L333.7,236.7 L335.6,235.2 L337.5,231.8 L339.5,233.3 L341.4,234.8 L343.3,236.3 L345.2,237.8 L347.1,239.4 L349.1,240.9 L351.0,242.4 L352.9,243.9 L354.8,245.4 L356.7,247.0 L358.7,248.5 L360.6,250.1 L362.5,251.6 L364.4,253.2 L366.3,254.8 L368.3,256.3 L370.2,257.9 L372.1,259.5 L374.0,261.1 L375.9,262.7 L377.9,264.4 L379.8,266.0 L381.7,267.6 L383.6,269.3 L385.5,270.9 L387.5,272.6 L389.4,274.2 L391.3,275.9 L393.2,277.5 L395.1,279.2 L397.1,280.8 L399.0,282.4 L400.9,284.1 L402.8,285.7 L404.8,287.3 L406.7,288.9 L408.6,290.4 L410.5,292.0 L412.4,293.5 L414.4,295.0 L416.3,296.5 L418.2,298.0 L420.1,299.4 L422.0,300.8 L424.0,302.2 L425.9,303.5 L427.8,304.9 L429.7,306.1 L431.6,307.4 L433.6,308.6 L435.5,309.8 L437.4,310.9 L439.3,312.0 L441.2,313.1 L443.2,314.2 L445.1,315.2 L447.0,316.2 L448.9,317.1 L450.8,318.1 L452.8,319.0 L454.7,319.9 L456.6,320.7 L458.5,321.6 L460.4,322.4 L462.4,323.2 L464.3,324.0 L466.2,324.8 L468.1,325.6 L470.1,326.3 L472.0,327.1 L473.9,327.9 L475.8,328.6 L477.7,329.4 L479.7,330.2 L481.6,330.9 L483.5,331.7 L485.4,332.5 L487.3,333.3 L489.3,334.2 L491.2,335.0 L493.1,335.9 L493.1,383.8 L110.9,383.8 Z" fill="rgb(189,99,44)" fill-opacity="0.15"/>
<clipPath id="underW"><path d="M110.9,285.8 L112.8,284.8 L114.7,283.9 L116.7,283.1 L118.6,282.2 L120.5,281.4 L122.4,280.5 L124.3,279.7 L126.3,279.0 L128.2,278.2 L130.1,277.5 L132.0,276.7 L133.9,276.1 L135.9,275.4 L137.8,274.7 L139.7,274.1 L141.6,273.5 L143.6,272.9 L145.5,272.3 L147.4,271.8 L149.3,271.2 L151.2,270.7 L153.2,270.2 L155.1,269.7 L157.0,269.3 L158.9,268.8 L160.8,268.4 L162.8,268.0 L164.7,267.6 L166.6,267.2 L168.5,266.8 L170.4,266.5 L172.4,266.1 L174.3,265.8 L176.2,265.5 L178.1,265.2 L180.0,264.9 L182.0,264.6 L183.9,264.4 L185.8,264.1 L187.7,263.9 L189.6,263.6 L191.6,263.4 L193.5,263.2 L195.4,263.0 L197.3,262.7 L199.2,262.5 L201.2,262.3 L203.1,262.1 L205.0,262.0 L206.9,261.8 L208.9,261.6 L210.8,261.4 L212.7,261.2 L214.6,261.0 L216.5,260.9 L218.5,260.7 L220.4,260.5 L222.3,260.3 L224.2,260.1 L226.1,260.0 L228.1,259.8 L230.0,259.6 L231.9,259.4 L233.8,259.2 L235.7,259.0 L237.7,258.7 L239.6,258.5 L241.5,258.3 L243.4,258.1 L245.3,257.8 L247.3,257.6 L249.2,257.3 L251.1,257.0 L253.0,256.8 L254.9,256.5 L256.9,256.2 L258.8,255.8 L260.7,255.5 L262.6,255.2 L264.5,254.8 L266.5,254.5 L268.4,254.1 L270.3,253.7 L272.2,253.3 L274.2,252.9 L276.1,252.4 L278.0,252.0 L279.9,251.5 L281.8,251.0 L283.8,250.5 L285.7,250.0 L287.6,249.5 L289.5,248.9 L291.4,248.4 L293.4,247.8 L295.3,247.2 L297.2,246.6 L299.1,245.9 L301.0,245.3 L303.0,244.6 L304.9,244.0 L306.8,243.3 L308.7,242.6 L310.6,241.9 L312.6,241.1 L314.5,240.4 L316.4,239.6 L318.3,238.8 L320.2,238.1 L322.2,237.3 L324.1,236.4 L326.0,235.6 L327.9,234.8 L329.8,233.9 L331.8,233.1 L333.7,232.2 L335.6,231.4 L337.5,230.5 L339.5,229.6 L341.4,228.7 L343.3,227.8 L345.2,226.9 L347.1,226.0 L349.1,225.1 L351.0,224.1 L352.9,223.2 L354.8,222.3 L356.7,221.4 L358.7,220.5 L360.6,219.6 L362.5,218.7 L364.4,217.8 L366.3,216.8 L368.3,216.0 L370.2,215.1 L372.1,214.2 L374.0,213.3 L375.9,212.4 L377.9,211.6 L379.8,210.7 L381.7,209.9 L383.6,209.1 L385.5,208.3 L387.5,207.5 L389.4,206.8 L391.3,206.0 L393.2,205.3 L395.1,204.6 L397.1,203.9 L399.0,203.2 L400.9,202.6 L402.8,201.9 L404.8,201.4 L406.7,200.8 L408.6,200.3 L410.5,199.7 L412.4,199.3 L414.4,198.8 L416.3,198.4 L418.2,198.0 L420.1,197.7 L422.0,197.3 L424.0,197.1 L425.9,196.8 L427.8,196.6 L429.7,196.4 L431.6,196.3 L433.6,196.2 L435.5,196.2 L437.4,196.2 L439.3,196.2 L441.2,196.3 L443.2,196.4 L445.1,196.6 L447.0,196.8 L448.9,197.0 L450.8,197.3 L452.8,197.7 L454.7,198.1 L456.6,198.6 L458.5,199.1 L460.4,199.6 L462.4,200.2 L464.3,200.8 L466.2,201.5 L468.1,202.3 L470.1,203.1 L472.0,203.9 L473.9,204.8 L475.8,205.8 L477.7,206.8 L479.7,207.8 L481.6,208.9 L483.5,210.1 L485.4,211.3 L487.3,212.5 L489.3,213.8 L491.2,215.2 L493.1,216.6 L493.1,383.8 L110.9,383.8 Z"/></clipPath>
<g clip-path="url(#underW)" fill="none" stroke="rgb(70,10,40)" stroke-width="1.6">
<path d="M110.9,169.0 L112.8,165.0 L114.7,161.1 L116.7,157.3 L118.6,153.6 L120.5,150.1 L122.4,146.8 L124.3,143.5 L126.3,140.5 L128.2,137.5 L130.1,134.7 L132.0,132.1 L133.9,129.6 L135.9,127.2 L137.8,125.0 L139.7,122.9 L141.6,121.0 L143.6,119.2 L145.5,117.6 L147.4,116.1 L149.3,114.7 L151.2,113.4 L153.2,112.3 L155.1,111.3 L157.0,110.5 L158.9,109.7 L160.8,109.1 L162.8,108.6 L164.7,108.2 L166.6,107.9 L168.5,107.7 L170.4,107.6 L172.4,107.6 L174.3,107.6 L176.2,107.8 L178.1,108.1 L180.0,108.4 L182.0,108.8 L183.9,109.3 L185.8,109.9 L187.7,110.5 L189.6,111.2 L191.6,111.9 L193.5,112.8 L195.4,113.6 L197.3,114.6 L199.2,115.6 L201.2,116.6 L203.1,117.7 L205.0,118.8 L206.9,120.0 L208.9,121.2 L210.8,122.4 L212.7,123.7 L214.6,125.1 L216.5,126.4 L218.5,127.8 L220.4,129.3 L222.3,130.7 L224.2,132.2 L226.1,133.8 L228.1,135.3 L230.0,136.9 L231.9,138.5 L233.8,140.1 L235.7,141.7 L237.7,143.4 L239.6,145.1 L241.5,146.7 L243.4,148.5 L245.3,150.2 L247.3,151.9 L249.2,153.7 L251.1,155.4 L253.0,157.2 L254.9,159.0 L256.9,160.8 L258.8,162.5 L260.7,164.3 L262.6,166.1 L264.5,168.0 L266.5,169.8 L268.4,171.6 L270.3,173.4 L272.2,175.2 L274.2,177.0 L276.1,178.8 L278.0,180.6 L279.9,182.4 L281.8,184.2 L283.8,185.9 L285.7,187.7 L287.6,189.5 L289.5,191.2 L291.4,193.0 L293.4,194.7 L295.3,196.5 L297.2,198.2 L299.1,199.9 L301.0,201.6 L303.0,203.3 L304.9,204.9 L306.8,206.6 L308.7,208.3 L310.6,209.9 L312.6,211.5 L314.5,213.1 L316.4,214.7 L318.3,216.3 L320.2,217.9 L322.2,219.5 L324.1,221.0 L326.0,222.6 L327.9,224.1 L329.8,225.7 L331.8,227.2 L333.7,228.7 L335.6,230.3 L337.5,231.8 L339.5,233.3 L341.4,234.8 L343.3,236.3 L345.2,237.8 L347.1,239.4 L349.1,240.9 L351.0,242.4 L352.9,243.9 L354.8,245.4 L356.7,247.0 L358.7,248.5 L360.6,250.1 L362.5,251.6 L364.4,253.2 L366.3,254.8 L368.3,256.3 L370.2,257.9 L372.1,259.5 L374.0,261.1 L375.9,262.7 L377.9,264.4 L379.8,266.0 L381.7,267.6 L383.6,269.3 L385.5,270.9 L387.5,272.6 L389.4,274.2 L391.3,275.9 L393.2,277.5 L395.1,279.2 L397.1,280.8 L399.0,282.4 L400.9,284.1 L402.8,285.7 L404.8,287.3 L406.7,288.9 L408.6,290.4 L410.5,292.0 L412.4,293.5 L414.4,295.0 L416.3,296.5 L418.2,298.0 L420.1,299.4 L422.0,300.8 L424.0,302.2 L425.9,303.5 L427.8,304.9 L429.7,306.1 L431.6,307.4 L433.6,308.6 L435.5,309.8 L437.4,310.9 L439.3,312.0 L441.2,313.1 L443.2,314.2 L445.1,315.2 L447.0,316.2 L448.9,317.1 L450.8,318.1 L452.8,319.0 L454.7,319.9 L456.6,320.7 L458.5,321.6 L460.4,322.4 L462.4,323.2 L464.3,324.0 L466.2,324.8 L468.1,325.6 L470.1,326.3 L472.0,327.1 L473.9,327.9 L475.8,328.6 L477.7,329.4 L479.7,330.2 L481.6,330.9 L483.5,331.7 L485.4,332.5 L487.3,333.3 L489.3,334.2 L491.2,335.0 L493.1,335.9" stroke-opacity="0.3"/>
<path d="M110.9,250.1 L112.8,248.6 L114.7,247.2 L116.7,245.7 L118.6,244.3 L120.5,242.9 L122.4,241.6 L124.3,240.2 L126.3,238.9 L128.2,237.7 L130.1,236.4 L132.0,235.2 L133.9,234.0 L135.9,232.9 L137.8,231.7 L139.7,230.6 L141.6,229.6 L143.6,228.5 L145.5,227.5 L147.4,226.5 L149.3,225.6 L151.2,224.6 L153.2,223.7 L155.1,222.8 L157.0,222.0 L158.9,221.1 L160.8,220.3 L162.8,219.5 L164.7,218.8 L166.6,218.0 L168.5,217.3 L170.4,216.6 L172.4,215.9 L174.3,215.3 L176.2,214.6 L178.1,214.0 L180.0,213.4 L182.0,212.8 L183.9,212.3 L185.8,211.7 L187.7,211.2 L189.6,210.7 L191.6,210.2 L193.5,209.7 L195.4,209.3 L197.3,208.8 L199.2,208.4 L201.2,208.0 L203.1,207.6 L205.0,207.2 L206.9,206.9 L208.9,206.5 L210.8,206.2 L212.7,205.9 L214.6,205.6 L216.5,205.3 L218.5,205.0 L220.4,204.7 L222.3,204.5 L224.2,204.3 L226.1,204.1 L228.1,203.9 L230.0,203.7 L231.9,203.5 L233.8,203.4 L235.7,203.2 L237.7,203.1 L239.6,203.0 L241.5,202.9 L243.4,202.8 L245.3,202.8 L247.3,202.7 L249.2,202.7 L251.1,202.7 L253.0,202.7 L254.9,202.7 L256.9,202.7 L258.8,202.8 L260.7,202.8 L262.6,202.9 L264.5,203.0 L266.5,203.1 L268.4,203.2 L270.3,203.4 L272.2,203.5 L274.2,203.7 L276.1,203.9 L278.0,204.1 L279.9,204.3 L281.8,204.5 L283.8,204.8 L285.7,205.0 L287.6,205.3 L289.5,205.6 L291.4,205.9 L293.4,206.2 L295.3,206.5 L297.2,206.9 L299.1,207.2 L301.0,207.6 L303.0,208.0 L304.9,208.4 L306.8,208.8 L308.7,209.2 L310.6,209.6 L312.6,210.0 L314.5,210.5 L316.4,210.9 L318.3,211.4 L320.2,211.8 L322.2,212.3 L324.1,212.8 L326.0,213.3 L327.9,213.8 L329.8,214.3 L331.8,214.8 L333.7,215.3 L335.6,215.8 L337.5,216.3 L339.5,216.9 L341.4,217.4 L343.3,217.9 L345.2,218.5 L347.1,219.0 L349.1,219.6 L351.0,220.1 L352.9,220.6 L354.8,221.2 L356.7,221.7 L358.7,222.3 L360.6,222.8 L362.5,223.4 L364.4,223.9 L366.3,224.5 L368.3,225.1 L370.2,225.6 L372.1,226.2 L374.0,226.7 L375.9,227.3 L377.9,227.8 L379.8,228.3 L381.7,228.9 L383.6,229.4 L385.5,230.0 L387.5,230.5 L389.4,231.1 L391.3,231.6 L393.2,232.2 L395.1,232.7 L397.1,233.2 L399.0,233.8 L400.9,234.3 L402.8,234.9 L404.8,235.4 L406.7,236.0 L408.6,236.5 L410.5,237.1 L412.4,237.6 L414.4,238.2 L416.3,238.7 L418.2,239.3 L420.1,239.9 L422.0,240.4 L424.0,241.0 L425.9,241.6 L427.8,242.2 L429.7,242.8 L431.6,243.4 L433.6,244.0 L435.5,244.6 L437.4,245.3 L439.3,245.9 L441.2,246.6 L443.2,247.3 L445.1,247.9 L447.0,248.6 L448.9,249.3 L450.8,250.1 L452.8,250.8 L454.7,251.6 L456.6,252.4 L458.5,253.2 L460.4,254.0 L462.4,254.8 L464.3,255.6 L466.2,256.5 L468.1,257.4 L470.1,258.3 L472.0,259.2 L473.9,260.2 L475.8,261.2 L477.7,262.2 L479.7,263.2 L481.6,264.2 L483.5,265.3 L485.4,266.4 L487.3,267.5 L489.3,268.6 L491.2,269.8 L493.1,271.0" stroke-opacity="0.3"/>
<path d="M110.9,335.3 L112.8,334.9 L114.7,334.4 L116.7,334.0 L118.6,333.6 L120.5,333.2 L122.4,332.8 L124.3,332.4 L126.3,332.0 L128.2,331.6 L130.1,331.3 L132.0,330.9 L133.9,330.5 L135.9,330.1 L137.8,329.7 L139.7,329.3 L141.6,328.9 L143.6,328.6 L145.5,328.2 L147.4,327.8 L149.3,327.4 L151.2,327.0 L153.2,326.6 L155.1,326.2 L157.0,325.7 L158.9,325.3 L160.8,324.9 L162.8,324.4 L164.7,324.0 L166.6,323.5 L168.5,323.1 L170.4,322.6 L172.4,322.1 L174.3,321.6 L176.2,321.1 L178.1,320.6 L180.0,320.1 L182.0,319.5 L183.9,319.0 L185.8,318.4 L187.7,317.8 L189.6,317.2 L191.6,316.6 L193.5,315.9 L195.4,315.3 L197.3,314.6 L199.2,314.0 L201.2,313.3 L203.1,312.6 L205.0,311.8 L206.9,311.1 L208.9,310.4 L210.8,309.6 L212.7,308.8 L214.6,308.0 L216.5,307.2 L218.5,306.3 L220.4,305.5 L222.3,304.6 L224.2,303.8 L226.1,302.9 L228.1,302.0 L230.0,301.0 L231.9,300.1 L233.8,299.1 L235.7,298.2 L237.7,297.2 L239.6,296.2 L241.5,295.2 L243.4,294.2 L245.3,293.2 L247.3,292.1 L249.2,291.1 L251.1,290.0 L253.0,289.0 L254.9,287.9 L256.9,286.8 L258.8,285.7 L260.7,284.6 L262.6,283.5 L264.5,282.4 L266.5,281.2 L268.4,280.1 L270.3,279.0 L272.2,277.8 L274.2,276.6 L276.1,275.5 L278.0,274.3 L279.9,273.1 L281.8,271.9 L283.8,270.7 L285.7,269.5 L287.6,268.3 L289.5,267.1 L291.4,265.9 L293.4,264.6 L295.3,263.4 L297.2,262.1 L299.1,260.9 L301.0,259.6 L303.0,258.4 L304.9,257.1 L306.8,255.8 L308.7,254.5 L310.6,253.2 L312.6,251.9 L314.5,250.6 L316.4,249.2 L318.3,247.9 L320.2,246.5 L322.2,245.2 L324.1,243.8 L326.0,242.4 L327.9,241.0 L329.8,239.6 L331.8,238.1 L333.7,236.7 L335.6,235.2 L337.5,233.7 L339.5,232.3 L341.4,230.8 L343.3,229.2 L345.2,227.7 L347.1,226.1 L349.1,224.6 L351.0,223.0 L352.9,221.4 L354.8,219.8 L356.7,218.2 L358.7,216.5 L360.6,214.8 L362.5,213.2 L364.4,211.5 L366.3,209.8 L368.3,208.0 L370.2,206.3 L372.1,204.6 L374.0,202.8 L375.9,201.0 L377.9,199.3 L379.8,197.5 L381.7,195.7 L383.6,193.9 L385.5,192.0 L387.5,190.2 L389.4,188.4 L391.3,186.6 L393.2,184.8 L395.1,182.9 L397.1,181.1 L399.0,179.3 L400.9,177.5 L402.8,175.7 L404.8,173.9 L406.7,172.1 L408.6,170.4 L410.5,168.6 L412.4,166.9 L414.4,165.2 L416.3,163.6 L418.2,161.9 L420.1,160.3 L422.0,158.7 L424.0,157.1 L425.9,155.6 L427.8,154.1 L429.7,152.7 L431.6,151.3 L433.6,150.0 L435.5,148.7 L437.4,147.4 L439.3,146.2 L441.2,145.1 L443.2,144.0 L445.1,143.0 L447.0,142.1 L448.9,141.2 L450.8,140.4 L452.8,139.6 L454.7,138.9 L456.6,138.4 L458.5,137.8 L460.4,137.4 L462.4,137.0 L464.3,136.8 L466.2,136.6 L468.1,136.4 L470.1,136.4 L472.0,136.5 L473.9,136.6 L475.8,136.9 L477.7,137.2 L479.7,137.6 L481.6,138.1 L483.5,138.7 L485.4,139.4 L487.3,140.2 L489.3,141.1 L491.2,142.1 L493.1,143.1" stroke-opacity="0.08"/>
</g>
<path d="M110.9,250.1 L112.8,248.6 L114.7,247.2 L116.7,245.7 L118.6,244.3 L120.5,242.9 L122.4,241.6 L124.3,240.2 L126.3,238.9 L128.2,237.7 L130.1,236.4 L132.0,235.2 L133.9,234.0 L135.9,232.9 L137.8,231.7 L139.7,230.6 L141.6,229.6 L143.6,228.5 L145.5,227.5 L147.4,226.5 L149.3,225.6 L151.2,224.6 L153.2,223.7 L155.1,222.8 L157.0,222.0 L158.9,221.1 L160.8,220.3 L162.8,219.5 L164.7,218.8 L166.6,218.0 L168.5,217.3 L170.4,216.6 L172.4,215.9 L174.3,215.3 L176.2,214.6 L178.1,214.0 L180.0,213.4 L182.0,212.8 L183.9,212.3 L185.8,211.7 L187.7,211.2 L189.6,210.7 L191.6,210.2 L193.5,209.7 L195.4,209.3 L197.3,208.8 L199.2,208.4 L201.2,208.0 L203.1,207.6 L205.0,207.2 L206.9,206.9 L208.9,206.5 L210.8,206.2 L212.7,205.9 L214.6,205.6 L216.5,205.3 L218.5,205.0 L220.4,204.7 L222.3,204.5 L224.2,204.3 L226.1,204.1 L228.1,203.9 L230.0,203.7 L231.9,203.5 L233.8,203.4 L235.7,203.2 L237.7,203.1 L239.6,203.0 L241.5,202.9 L243.4,202.8 L245.3,202.8 L247.3,202.7 L249.2,202.7 L251.1,202.7 L253.0,202.7 L254.9,202.7 L256.9,202.7 L258.8,202.8 L260.7,202.8 L262.6,202.9 L264.5,203.0 L266.5,203.1 L268.4,203.2 L270.3,203.4 L272.2,203.5 L274.2,203.7 L276.1,203.9 L278.0,204.1 L279.9,204.3 L281.8,204.5 L283.8,204.8 L285.7,205.0 L287.6,205.3 L289.5,205.6 L291.4,205.9 L293.4,206.2 L295.3,206.5 L297.2,206.9 L299.1,207.2 L301.0,207.6 L303.0,208.0 L304.9,208.4 L306.8,208.8 L308.7,209.2" fill="none" stroke="rgb(60,40,95)" stroke-opacity="0.4" stroke-width="1.9"/>
<path d="M110.9,285.8 L112.8,284.8 L114.7,283.9 L116.7,283.1 L118.6,282.2 L120.5,281.4 L122.4,280.5 L124.3,279.7 L126.3,279.0 L128.2,278.2 L130.1,277.5 L132.0,276.7 L133.9,276.1 L135.9,275.4 L137.8,274.7 L139.7,274.1 L141.6,273.5 L143.6,272.9 L145.5,272.3 L147.4,271.8 L149.3,271.2 L151.2,270.7 L153.2,270.2 L155.1,269.7 L157.0,269.3 L158.9,268.8 L160.8,268.4 L162.8,268.0 L164.7,267.6 L166.6,267.2 L168.5,266.8 L170.4,266.5 L172.4,266.1 L174.3,265.8 L176.2,265.5 L178.1,265.2 L180.0,264.9 L182.0,264.6 L183.9,264.4 L185.8,264.1 L187.7,263.9 L189.6,263.6 L191.6,263.4 L193.5,263.2 L195.4,263.0 L197.3,262.7 L199.2,262.5 L201.2,262.3 L203.1,262.1 L205.0,262.0 L206.9,261.8 L208.9,261.6 L210.8,261.4 L212.7,261.2 L214.6,261.0 L216.5,260.9 L218.5,260.7 L220.4,260.5 L222.3,260.3 L224.2,260.1 L226.1,260.0 L228.1,259.8 L230.0,259.6 L231.9,259.4 L233.8,259.2 L235.7,259.0 L237.7,258.7 L239.6,258.5 L241.5,258.3 L243.4,258.1 L245.3,257.8 L247.3,257.6 L249.2,257.3 L251.1,257.0 L253.0,256.8 L254.9,256.5 L256.9,256.2 L258.8,255.8 L260.7,255.5 L262.6,255.2 L264.5,254.8 L266.5,254.5 L268.4,254.1 L270.3,253.7 L272.2,253.3 L274.2,252.9 L276.1,252.4 L278.0,252.0 L279.9,251.5 L281.8,251.0 L283.8,250.5 L285.7,250.0 L287.6,249.5 L289.5,248.9 L291.4,248.4 L293.4,247.8 L295.3,247.2 L297.2,246.6 L299.1,245.9 L301.0,245.3 L303.0,244.6 L304.9,244.0 L306.8,243.3 L308.7,242.6 L310.6,241.9 L312.6,241.1 L314.5,240.4 L316.4,239.6 L318.3,238.8 L320.2,238.1 L322.2,237.3 L324.1,236.4 L326.0,235.6 L327.9,234.8 L329.8,233.9 L331.8,233.1 L333.7,232.2 L335.6,231.4 L337.5,230.5 L339.5,229.6 L341.4,228.7 L343.3,227.8 L345.2,226.9 L347.1,226.0 L349.1,225.1 L351.0,224.1 L352.9,223.2 L354.8,222.3 L356.7,221.4 L358.7,220.5 L360.6,219.6 L362.5,218.7 L364.4,217.8 L366.3,216.8 L368.3,216.0 L370.2,215.1 L372.1,214.2 L374.0,213.3 L375.9,212.4 L377.9,211.6 L379.8,210.7 L381.7,209.9 L383.6,209.1 L385.5,208.3 L387.5,207.5 L389.4,206.8 L391.3,206.0 L393.2,205.3 L395.1,204.6 L397.1,203.9 L399.0,203.2 L400.9,202.6 L402.8,201.9 L404.8,201.4 L406.7,200.8 L408.6,200.3 L410.5,199.7 L412.4,199.3 L414.4,198.8 L416.3,198.4 L418.2,198.0 L420.1,197.7 L422.0,197.3 L424.0,197.1 L425.9,196.8 L427.8,196.6 L429.7,196.4 L431.6,196.3 L433.6,196.2 L435.5,196.2 L437.4,196.2 L439.3,196.2 L441.2,196.3 L443.2,196.4 L445.1,196.6 L447.0,196.8 L448.9,197.0 L450.8,197.3 L452.8,197.7 L454.7,198.1 L456.6,198.6 L458.5,199.1 L460.4,199.6 L462.4,200.2 L464.3,200.8 L466.2,201.5 L468.1,202.3 L470.1,203.1 L472.0,203.9 L473.9,204.8 L475.8,205.8 L477.7,206.8 L479.7,207.8 L481.6,208.9 L483.5,210.1 L485.4,211.3 L487.3,212.5 L489.3,213.8 L491.2,215.2 L493.1,216.6" fill="none" stroke="#000" stroke-width="1.9"/>
</g>
<g id="axes" stroke="#000" stroke-width="2.2" fill="none" stroke-linecap="butt">
<path d="M110.9,1.8 V384.8"/>
<path d="M109.9,383.8 H493.1"/>
</g>
<g id="yticks" font-size="34.6px"><text x="101.9" y="28.6" text-anchor="end" font-size="35.8px">25<tspan font-style="italic" font-size="34.6px">%</tspan></text><text x="101.9" y="102.0" text-anchor="end" font-size="35.8px">20<tspan font-style="italic" font-size="34.6px">%</tspan></text><text x="101.9" y="175.4" text-anchor="end" font-size="35.8px">15<tspan font-style="italic" font-size="34.6px">%</tspan></text><text x="101.9" y="248.8" text-anchor="end" font-size="35.8px">10<tspan font-style="italic" font-size="34.6px">%</tspan></text><text x="101.9" y="322.2" text-anchor="end" font-size="35.8px">5<tspan font-style="italic" font-size="34.6px">%</tspan></text><text x="101.9" y="395.6" text-anchor="end" font-size="35.8px">0<tspan font-style="italic" font-size="34.6px">%</tspan></text></g>
<g id="xticks" font-size="34.6px"><text x="110.9" y="416" text-anchor="middle">1</text><text x="165.5" y="416" text-anchor="middle">2</text><text x="220.1" y="416" text-anchor="middle">3</text><text x="274.7" y="416" text-anchor="middle">4</text><text x="329.3" y="416" text-anchor="middle">5</text><text x="383.9" y="416" text-anchor="middle">6</text><text x="438.5" y="416" text-anchor="middle">7</text><text x="493.1" y="416" text-anchor="middle">8</text></g>
<text id="ylab" font-size="35.6px" letter-spacing="0.3" transform="translate(23.9,193.7) rotate(-90)" text-anchor="middle">Trials</text>
<text id="xlab" font-size="34.6px" x="221.3" y="452.0" letter-spacing="0.2">Blast Level</text>
<g id="legend" font-size="26.0px">
<text x="179.9" y="17.4" font-size="26.08px">High Negative Affect From:</text>
<g stroke="#000" stroke-width="2.1" stroke-linejoin="round">
<rect x="204.4" y="33.2" width="31.1" height="30.6" fill="#fff"/>
<rect x="204.4" y="82" width="31.1" height="30.6" fill="rgb(126,126,126)"/>
<rect x="350.4" y="33.2" width="30.8" height="30.6" fill="rgb(254,128,128)"/>
<rect x="350.4" y="82" width="30.8" height="30.6" fill="rgb(196,122,122)"/>
</g>
<text x="242.8" y="58.5">Neither</text>
<text x="242.8" y="107.9">Loser</text>
<text x="385.8" y="58.5">Winner</text>
<text x="385.8" y="107.9">Both</text>
</g>
</svg>
</body></html>
